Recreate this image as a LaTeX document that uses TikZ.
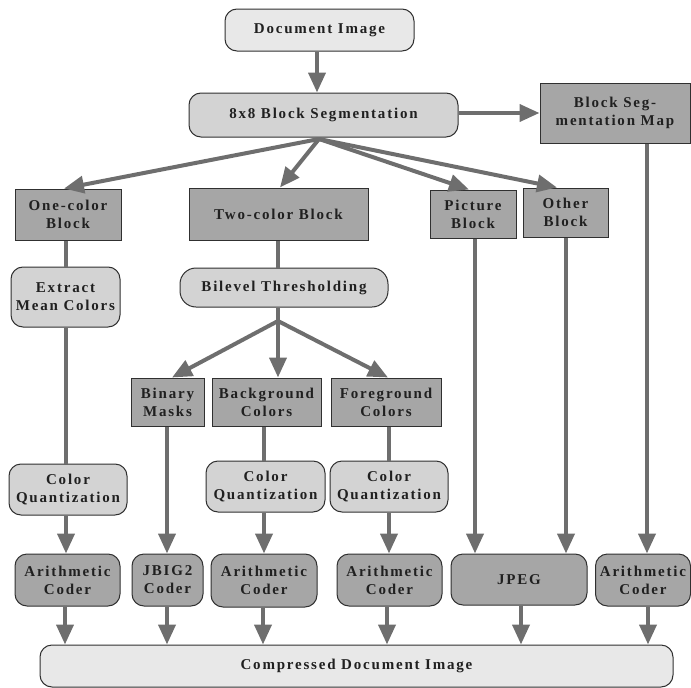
\documentclass[tikz,border=0pt]{standalone}
\usepackage{fontspec}
\setmainfont{Liberation Serif}[LetterSpace=12]
\usetikzlibrary{arrows.meta}
\definecolor{lightbox}{HTML}{E8E8E8}
\definecolor{midbox}{HTML}{D3D3D3}
\definecolor{darkbox}{HTML}{A6A6A6}
\definecolor{arrowgray}{HTML}{6E6E6E}
\definecolor{edgegray}{HTML}{303030}
\definecolor{textgray}{HTML}{202020}
\tikzset{
  box/.style={draw=edgegray, line width=1pt, inner sep=0pt, align=center,
    text=textgray, font=\fontsize{15}{18}\selectfont\bfseries},
  lightround/.style={box, fill=lightbox, rounded corners=12pt},
  midround/.style={box, fill=midbox, rounded corners=12pt},
  darkround/.style={box, fill=darkbox, rounded corners=12pt},
  darkrect/.style={box, fill=darkbox},
  flow/.style={draw=arrowgray, line width=4pt, -{Triangle[length=20pt,width=17pt]}},
  link/.style={draw=arrowgray, line width=3.5pt},
}
\begin{document}
\begin{tikzpicture}[x=1pt,y=-1pt]
\useasboundingbox (0,0) rectangle (691,688);
% nodes
\node[lightround, minimum width=189pt, minimum height=42pt] (doc) at (319.5,30) {Document Image};
\node[midround, minimum width=269pt, minimum height=44pt] (seg) at (323.5,115) {8x8 Block Segmentation};
\node[darkrect, minimum width=150pt, minimum height=60pt] (map) at (615,113) {Block Seg-\\mentation Map};
\node[darkrect, minimum width=106pt, minimum height=51pt] (one) at (68,214.5) {One-color\\Block};
\node[darkrect, minimum width=179pt, minimum height=52pt] (two) at (278.5,214) {Two-color Block};
\node[darkrect, minimum width=86pt, minimum height=48pt] (pic) at (473,214) {Picture\\Block};
\node[darkrect, minimum width=85pt, minimum height=49pt] (oth) at (565.5,212.5) {Other\\Block};
\node[midround, minimum width=109pt, minimum height=60pt] (ext) at (65.5,297) {Extract\\Mean Colors};
\node[midround, rounded corners=16pt, minimum width=208pt, minimum height=39pt] (bil) at (284,287.5) {Bilevel Thresholding};
\node[darkrect, minimum width=73pt, minimum height=48pt] (bin) at (167.5,402) {Binary\\Masks};
\node[darkrect, minimum width=109pt, minimum height=48pt] (bg) at (266.5,402) {Background\\Colors};
\node[darkrect, minimum width=110pt, minimum height=48pt] (fg) at (386,402) {Foreground\\Colors};
\node[midround, minimum width=118pt, minimum height=51pt] (cqa) at (68,489.5) {Color\\Quantization};
\node[midround, minimum width=119pt, minimum height=51pt] (cqb) at (265.5,486.5) {Color\\Quantization};
\node[midround, minimum width=118pt, minimum height=51pt] (cqc) at (389,486.5) {Color\\Quantization};
\node[darkround, minimum width=105pt, minimum height=52pt] (aca) at (67.5,580) {Arithmetic\\Coder};
\node[darkround, minimum width=71pt, minimum height=52pt] (jb) at (167.5,580) {JBIG2\\Coder};
\node[darkround, minimum width=106pt, minimum height=53pt] (acb) at (264,580.5) {Arithmetic\\Coder};
\node[darkround, minimum width=105pt, minimum height=52pt] (acc) at (389.5,580) {Arithmetic\\Coder};
\node[darkround, minimum width=136pt, minimum height=51pt] (jpeg) at (519,579.5) {JPEG};
\node[darkround, minimum width=95pt, minimum height=52pt] (acd) at (643,580) {Arithmetic\\Coder};
\node[lightround, minimum width=633pt, minimum height=42pt] (comp) at (356.5,666) {Compressed Document Image};
% connectors
\draw[flow] (doc.south -| 317,0) -- (seg.north -| 317,0);
\draw[flow] (seg.east |- 0,113) -- (map.west |- 0,113);
\coordinate (fan) at (319,139);
\draw[flow] (fan) -- (one.north -| 64,0);
\draw[flow] (fan) -- (two.north -| 280,0);
\draw[flow] (fan) -- (pic.north -| 469,0);
\draw[flow] (fan) -- (oth.north -| 557,0);
\draw[link] (one.south -| 66,0) -- (ext.north -| 66,0);
\draw[link] (two.south -| 278,0) -- (bil.north -| 278,0);
\draw[link] (ext.south -| 66,0) -- (cqa.north -| 66,0);
\coordinate (split) at (278,321);
\draw[link] (bil.south -| 278,0) -- (split);
\draw[flow] (split) -- (bin.north -| 172,0);
\draw[flow] (split) -- (bg.north -| 278,0);
\draw[flow] (split) -- (fg.north -| 388,0);
\draw[flow] (bin.south -| 167,0) -- (jb.north -| 167,0);
\draw[link] (bg.south -| 264,0) -- (cqb.north -| 264,0);
\draw[link] (fg.south -| 389,0) -- (cqc.north -| 389,0);
\draw[flow] (cqa.south -| 66,0) -- (aca.north -| 66,0);
\draw[flow] (cqb.south -| 264,0) -- (acb.north -| 264,0);
\draw[flow] (cqc.south -| 389,0) -- (acc.north -| 389,0);
\draw[flow] (pic.south -| 475,0) -- (jpeg.north -| 475,0);
\draw[flow] (oth.south -| 566,0) -- (jpeg.north -| 566,0);
\draw[flow] (map.south -| 647,0) -- (acd.north -| 647,0);
\draw[flow] (aca.south -| 65,0) -- (comp.north -| 65,0);
\draw[flow] (jb.south -| 167,0) -- (comp.north -| 167,0);
\draw[flow] (acb.south -| 263,0) -- (comp.north -| 263,0);
\draw[flow] (acc.south -| 387,0) -- (comp.north -| 387,0);
\draw[flow] (jpeg.south -| 521,0) -- (comp.north -| 521,0);
\draw[flow] (acd.south -| 648,0) -- (comp.north -| 648,0);
\end{tikzpicture}
\end{document}
